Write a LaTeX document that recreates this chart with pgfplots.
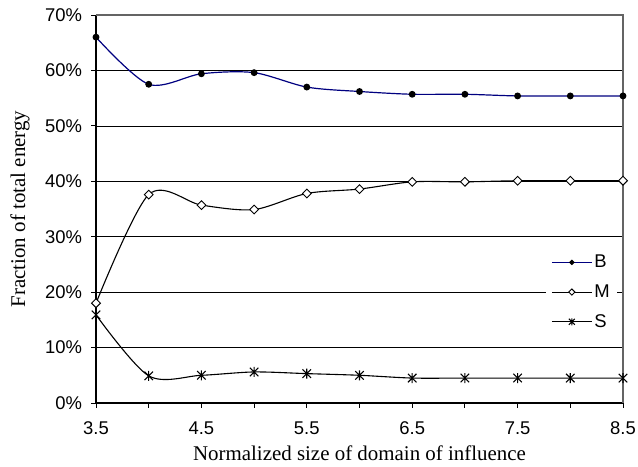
\documentclass[border=0pt]{standalone}
\usepackage{fontspec}
\setmainfont{Liberation Sans}
\newfontfamily\labelfont{Liberation Serif}
\usepackage{pgfplots}
\usepackage{pgfplotstable}
\pgfplotsset{compat=1.18}

\definecolor{bblue}{RGB}{0,0,128}
\definecolor{framegray}{RGB}{100,100,100}

% star marker: a cross with a vertical bar through it
\pgfdeclareplotmark{xstar}{%
  \pgfpathmoveto{\pgfqpoint{-0.85\pgfplotmarksize}{-0.85\pgfplotmarksize}}%
  \pgfpathlineto{\pgfqpoint{0.85\pgfplotmarksize}{0.85\pgfplotmarksize}}%
  \pgfpathmoveto{\pgfqpoint{-0.85\pgfplotmarksize}{0.85\pgfplotmarksize}}%
  \pgfpathlineto{\pgfqpoint{0.85\pgfplotmarksize}{-0.85\pgfplotmarksize}}%
  \pgfpathmoveto{\pgfqpoint{0pt}{-\pgfplotmarksize}}%
  \pgfpathlineto{\pgfqpoint{0pt}{\pgfplotmarksize}}%
  \pgfusepathqstroke}

% x = normalized size of domain of influence, values in percent of total energy
\pgfplotstableread{
x    B     M     S
3.5  66.0  18.0  15.9
4.0  57.5  37.6  4.9
4.5  59.4  35.7  5.0
5.0  59.6  34.9  5.6
5.5  57.0  37.8  5.3
6.0  56.2  38.6  5.0
6.5  55.7  39.9  4.5
7.0  55.7  39.9  4.5
7.5  55.4  40.1  4.5
8.0  55.4  40.1  4.5
8.5  55.4  40.1  4.5
}\energytable

\begin{document}
\begin{tikzpicture}
\begin{axis}[
  scale only axis,
  width=527bp, height=388bp,
  xmin=3.5, xmax=8.5, ymin=0, ymax=70,
  clip=false,
  axis x line*=bottom, axis y line*=left,
  axis line style={black, line width=1.3bp},
  xtick={3.5,4.0,4.5,5.0,5.5,6.0,6.5,7.0,7.5,8.0,8.5},
  xticklabels={3.5,,4.5,,5.5,,6.5,,7.5,,8.5},
  ytick={0,10,20,30,40,50,60,70},
  yticklabels={0\%,10\%,20\%,30\%,40\%,50\%,60\%,70\%},
  tick align=outside, major tick length=4.5bp,
  tick style={black, line width=0.8bp},
  ymajorgrids, grid style={black, line width=0.7bp},
  tick label style={font=\fontsize{18.5}{22}\selectfont},
  xticklabel style={yshift=-11bp},
  yticklabel style={xshift=-6bp},
  xlabel={Normalized size of domain of influence},
  ylabel={Fraction of total energy},
  label style={font=\labelfont\fontsize{21}{25}\selectfont},
  xlabel style={at={(axis description cs:0.5,0)}, yshift=-50bp, anchor=center},
  ylabel style={at={(axis description cs:-0.1442,0.5)}, anchor=center},
  legend style={at={(axis description cs:0.9886,0.2857)}, anchor=east,
    draw=none, fill=white, font=\fontsize{18.5}{22}\selectfont,
    row sep=11.5bp, inner xsep=5bp, inner ysep=6bp},
  legend cell align=left,
  legend image code/.code={\draw[mark repeat=2,mark phase=2,#1,
      every mark/.append style={scale=0.7}]
    plot coordinates {(0bp,0bp)(20bp,0bp)(40bp,0bp)};},
]
\addplot[bblue, line width=1.2bp, smooth, tension=0.5,
  mark=*, mark size=2.8bp, mark options={black, fill=black}]
  table[x=x, y=B] {\energytable};
\addlegendentry{B}
\addplot[black, line width=1.1bp, smooth, tension=0.5,
  mark=square*, mark size=3.1bp, mark options={rotate=45, fill=white, draw=black, line width=0.9bp}]
  table[x=x, y=M] {\energytable};
\addlegendentry{M}
\addplot[black, line width=1.1bp, smooth, tension=0.5,
  mark=xstar, mark size=5bp, mark options={line width=1.1bp}]
  table[x=x, y=S] {\energytable};
\addlegendentry{S}
\draw[framegray, line width=1.2bp] (rel axis cs:0,1) -- (rel axis cs:1,1) -- (rel axis cs:1,0);
\end{axis}
\pgfresetboundingbox
\path[use as bounding box] (-96bp,-64bp) rectangle (542bp,403bp);
\end{tikzpicture}
\end{document}
